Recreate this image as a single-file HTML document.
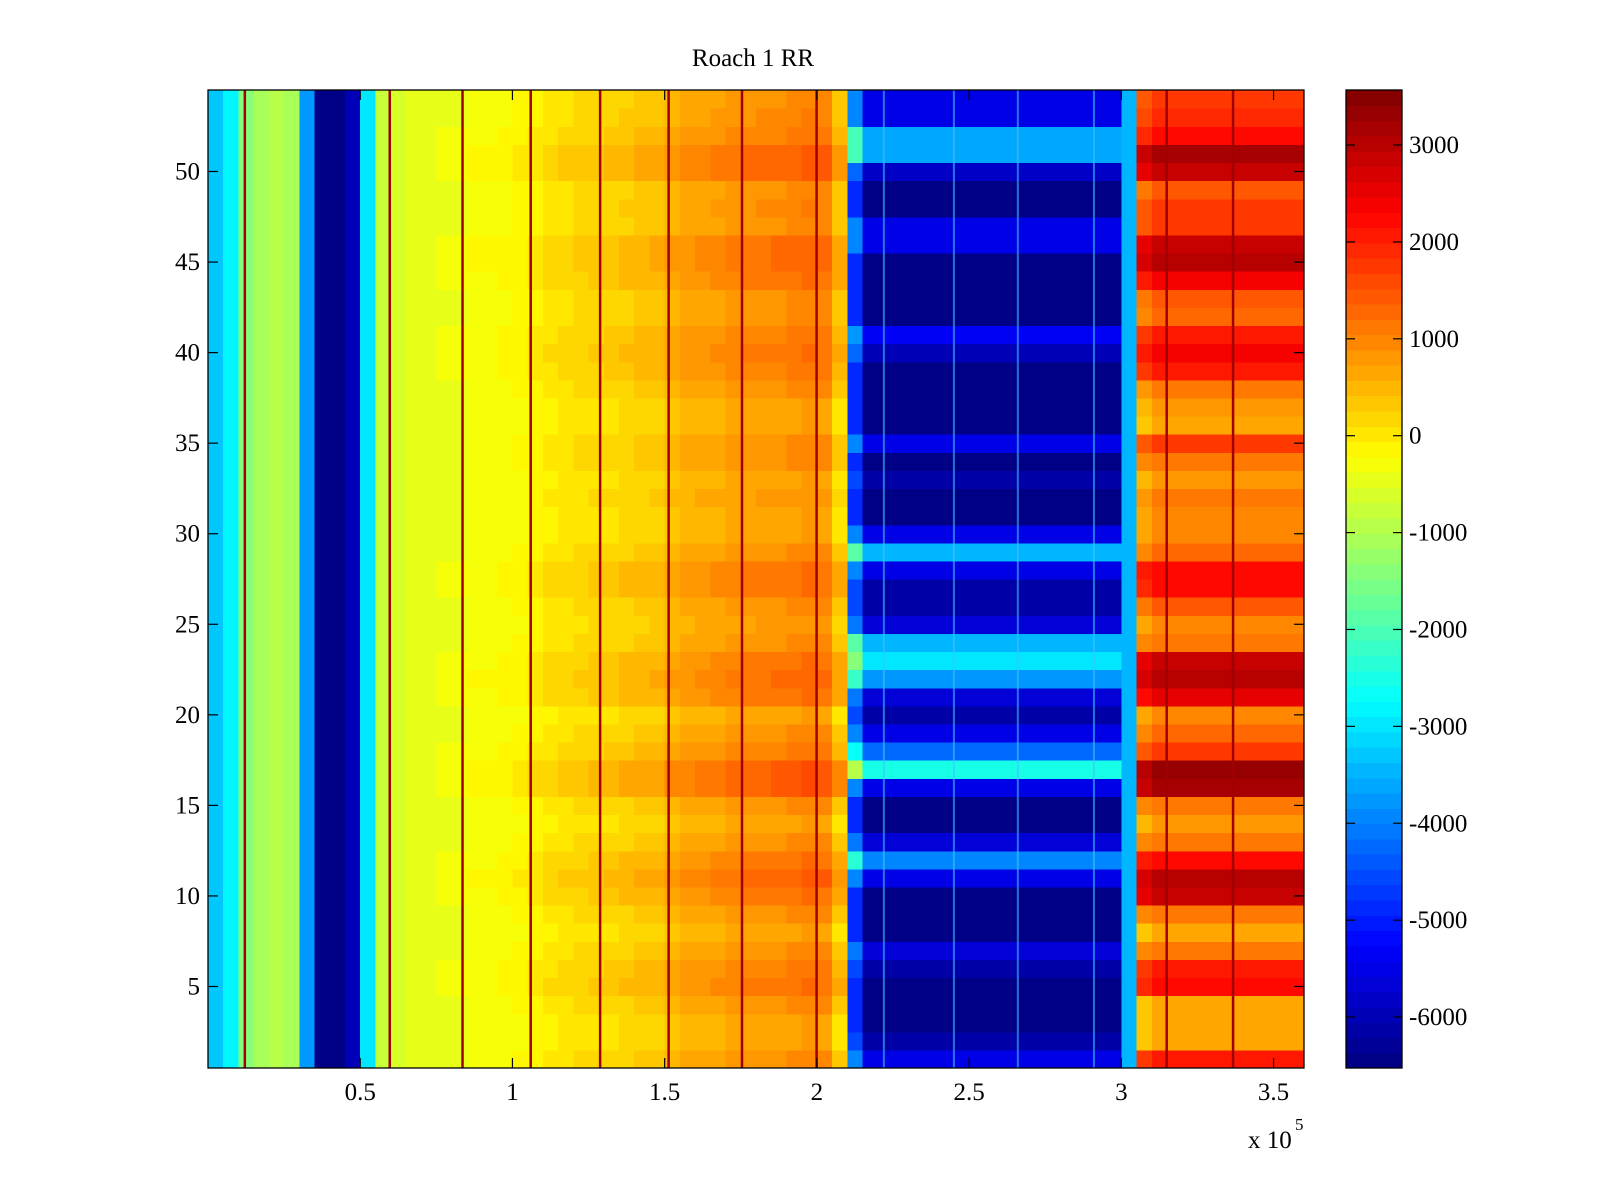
<!DOCTYPE html>
<html><head><meta charset="utf-8"><style>
html,body{margin:0;padding:0;background:#fff;}
svg{display:block;font-family:"Liberation Serif",serif;}
</style></head><body>
<svg id="chart" width="1600" height="1200" viewBox="0 0 1600 1200">
<rect x="0" y="0" width="1600" height="1200" fill="#fff"/>
<text x="753" y="66" font-size="25" text-anchor="middle">Roach 1 RR</text>
<g id="cells" shape-rendering="crispEdges"></g>
<g id="lines"></g>
<g id="cbar" shape-rendering="crispEdges"></g>
<g id="axes"></g>
</svg>
<script>
// ---- data ----
const colCenters = []; // x centers (x1e5), step 0.05
for (let i = 0; i < 72; i++) colCenters.push(0.025 + i * 0.05);
const baseValues = [-3300,-2800,-1400,-1100,-900,-1100,-3800,-6400,-6500,-6000,
 -3000,-800,-600,-500,-500,-400,-400,-300,-300,-250,
 -200,-100,0,50,100,150,200,250,300,350,
 500,600,650,700,750,800,850,850,900,950,
 900,300,-4800,-6400,-6400,-6400,-6400,-6400,-6400,-6400,
 -6400,-6400,-6400,-6400,-6400,-6400,-6400,-6400,-6400,-6400,
 -3500,1200,1500,1500,1500,1500,1500,1500,1500,1500,1500,1500];
const rowBlue = [900,200,0,0,0,300,700,0,0,0,900,2400,700,0,0,900,3900,2200,900,200,
 700,2600,3400,3000,700,300,300,900,2900,900,0,0,200,0,900,0,0,0,0,500,
 1100,0,0,0,0,900,900,0,0,600,2800,2800,900,900];
const rowRed = [500,-900,-900,-800,700,600,-300,-800,-300,1300,1500,800,-300,-700,-300,1600,1800,300,-200,-600,
 1000,1500,1300,-300,-500,0,700,800,-200,-500,-600,-400,-700,-300,200,-800,-700,-400,600,900,
 600,-200,0,900,1500,1400,200,300,0,1300,1600,700,400,200];
const rowMid = [0,-200,-200,0,300,200,0,-200,0,300,500,300,0,-200,0,600,600,200,0,-200,
 300,400,300,0,-100,0,300,300,0,-200,-200,-100,-200,0,0,-200,-200,0,200,300,
 200,0,0,300,400,400,0,100,0,500,500,200,100,0];
const darkLines = [0.121,0.597,0.836,1.06,1.288,1.513,1.754,1.999,3.149,3.367];
const lightLines = [2.22,2.45,2.66,2.91];
const xTicks = [0.5,1,1.5,2,2.5,3,3.5];
const yTicks = [5,10,15,20,25,30,35,40,45,50];
const cTicks = [3000,2000,1000,0,-1000,-2000,-3000,-4000,-5000,-6000];

// ---- scales ----
const PX0=208, PX1=1304, PY0=90, PY1=1068;
const XMIN=0, XMAX=3.6, YMIN=0.5, YMAX=54.5, CMIN=-6526, CMAX=3568;
const xs = v => PX0 + (v-XMIN)/(XMAX-XMIN)*(PX1-PX0);
const ys = v => PY1 - (v-YMIN)/(YMAX-YMIN)*(PY1-PY0);
const CX0=1346, CX1=1402;
const cs = v => PY1 - (v-CMIN)/(CMAX-CMIN)*(PY1-PY0);
function jet(v){
  let t=(v-CMIN)/(CMAX-CMIN); t=Math.max(0,Math.min(1,t));
  t=(Math.floor(t*63.999)+0.5)/64;
  const c=x=>Math.round(255*Math.max(0,Math.min(1,x)));
  return `rgb(${c(1.5-Math.abs(4*t-3))},${c(1.5-Math.abs(4*t-2))},${c(1.5-Math.abs(4*t-1))})`;
}
const NS='http://www.w3.org/2000/svg';
function mk(tag,attrs,parent){const e=document.createElementNS(NS,tag);for(const k in attrs)e.setAttribute(k,attrs[k]);parent.appendChild(e);return e;}

// ---- cells ----
const cells=document.getElementById('cells');
const dx=0.05;
for(let i=0;i<colCenters.length;i++){
  const xc=colCenters[i];
  for(let r=1;r<=54;r++){
    let v=baseValues[i];
    if(xc>2.1 && xc<3.0) v+=rowBlue[r-1];
    else if(xc>3.05) v+=rowRed[r-1];
    else if(xc>0.55 && xc<2.1) v+=rowMid[r-1]*(xc-0.55)/1.5;
    const x0=xs(xc-dx/2), x1=xs(xc+dx/2), y0=ys(r+0.5), y1=ys(r-0.5);
    const el=mk('rect',{x:x0.toFixed(2),y:y0.toFixed(2),width:(x1-x0+0.6).toFixed(2),height:(y1-y0+0.6).toFixed(2),fill:jet(v)},cells);
    
    
  }
}
// ---- streak lines ----
const lines=document.getElementById('lines');
darkLines.forEach(d=>{
  const el=mk('line',{x1:xs(d),x2:xs(d),y1:PY0,y2:PY1,stroke:'#a00000','stroke-width':2.5},lines);
  
  
});
lightLines.forEach(d=>{
  const el=mk('line',{x1:xs(d),x2:xs(d),y1:PY0,y2:PY1,stroke:'#40c0ff','stroke-width':2,opacity:0.6},lines);
  
  
});
// ---- colorbar ----
const cbar=document.getElementById('cbar');
for(let k=0;k<64;k++){
  const v0=CMIN+k*(CMAX-CMIN)/64, v1=CMIN+(k+1)*(CMAX-CMIN)/64;
  const el=mk('rect',{x:CX0,y:cs(v1).toFixed(2),width:CX1-CX0,height:(cs(v0)-cs(v1)+0.6).toFixed(2),fill:jet((v0+v1)/2)},cbar);
  
  
}
// ---- axes ----
const axes=document.getElementById('axes');
let fr=mk('rect',{x:PX0,y:PY0,width:PX1-PX0,height:PY1-PY0,fill:'none',stroke:'#000','stroke-width':1.3},axes);


let cf=mk('rect',{x:CX0,y:PY0,width:CX1-CX0,height:PY1-PY0,fill:'none',stroke:'#000','stroke-width':1.3},axes);


xTicks.forEach(t=>{
  const x=xs(t);
  mk('line',{x1:x,x2:x,y1:PY1,y2:PY1-10,stroke:'#000','stroke-width':1.2},axes);
  mk('line',{x1:x,x2:x,y1:PY0,y2:PY0+10,stroke:'#000','stroke-width':1.2},axes);
  const tx=mk('text',{x:x,y:1100,'font-size':25,'text-anchor':'middle'},axes);
  tx.textContent=String(t);
  
  
});
yTicks.forEach(t=>{
  const y=ys(t);
  mk('line',{x1:PX0,x2:PX0+10,y1:y,y2:y,stroke:'#000','stroke-width':1.2},axes);
  mk('line',{x1:PX1,x2:PX1-10,y1:y,y2:y,stroke:'#000','stroke-width':1.2},axes);
  const tx=mk('text',{x:200,y:y+8,'font-size':25,'text-anchor':'end'},axes);
  tx.textContent=String(t);
  
  
});
cTicks.forEach(t=>{
  const y=cs(t);
  mk('line',{x1:CX0,x2:CX0+9,y1:y,y2:y,stroke:'#000','stroke-width':1.2},axes);
  mk('line',{x1:CX1,x2:CX1-9,y1:y,y2:y,stroke:'#000','stroke-width':1.2},axes);
  const tx=mk('text',{x:1409,y:y+8,'font-size':25},axes);
  tx.textContent=String(t);
  
  
});
const ex=mk('text',{x:1248,y:1148,'font-size':25},axes);
ex.textContent='x 10';


const sup=mk('text',{x:1295,y:1130,'font-size':17},axes);
sup.textContent='5';


</script>
</body></html>
